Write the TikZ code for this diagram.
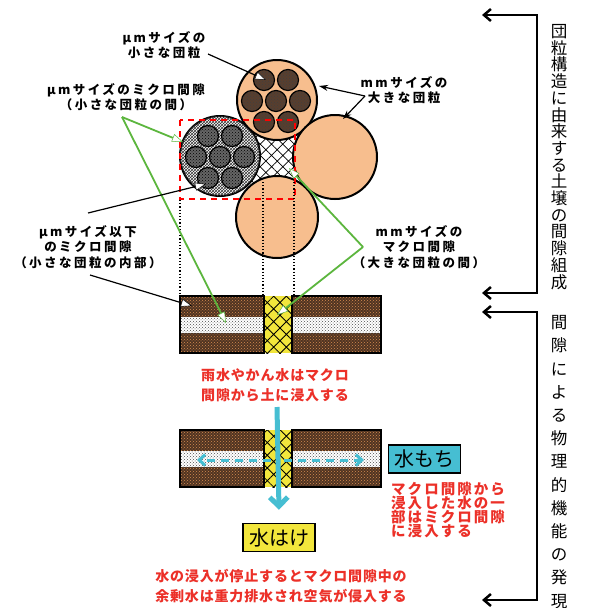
\documentclass[tikz,border=0pt]{standalone}
\usepackage{fontspec}
\usepackage{xcolor}
\usepackage{tikz}
\usetikzlibrary{patterns,patterns.meta,arrows.meta}

\newfontfamily\jp{Noto Sans CJK JP}
\newfontfamily\jplbl[LetterSpace=20]{Noto Sans CJK JP}
\newfontfamily\jpnote[LetterSpace=6]{Noto Sans CJK JP}
\newfontfamily\jphold[LetterSpace=14]{Noto Sans CJK JP}
\newcommand\lblfont{\jplbl\bfseries\fontsize{12.5}{15.5}\selectfont}
\newcommand\notefont{\jpnote\bfseries\fontsize{14}{20}\selectfont}

\definecolor{aggr}{RGB}{247,190,142}
\definecolor{crumbbrown}{RGB}{88,62,46}
\definecolor{soilbrown}{RGB}{80,52,34}
\definecolor{soildot}{RGB}{215,140,80}
\definecolor{water}{RGB}{70,190,210}
\definecolor{gapyellow}{RGB}{242,230,60}
\definecolor{note}{RGB}{236,48,40}
\definecolor{ptr}{RGB}{92,182,62}

\begin{document}
\begin{tikzpicture}[x=1pt,y=-1pt,
    lbl/.style={font=\lblfont, align=center, inner sep=0pt},
    note/.style={font=\notefont, text=note, align=center, inner sep=0pt},
    tag/.style={draw=black, line width=1.5pt, minimum width=72pt, minimum height=28pt,
        inner sep=0pt, font=\jp\fontsize{20}{20}\selectfont},
    vtxt/.style={align=center, inner sep=0pt},
    bigagg/.style={draw=black, line width=2pt, fill=aggr},
    crumb/.style={draw=black, line width=1.2pt, fill=crumbbrown,
        postaction={pattern=crosshatch dots, pattern color=black!75}},
    greycrumb/.style={draw=black, line width=1.2pt, fill=black!60,
        postaction={pattern=crosshatch dots, pattern color=black}},
    soilfill/.style={fill=soilbrown, postaction={pattern=crosshatch dots, pattern color=soildot}},
    bandfill/.style={fill=white, postaction={pattern=crosshatch dots, pattern color=black!70}},
    gapfill/.style={fill=gapyellow, postaction={pattern={Hatch[angle=45,distance=9pt,line width=0.8pt]}, pattern color=black}},
    leader/.style={black, line width=1.2pt, -{Triangle[length=11pt,width=8pt,fill=white,line width=0.5pt]}},
    pointer/.style={ptr, line width=1.8pt, -{Triangle[length=11pt,width=8pt,fill=white,line width=0.5pt]}},
    guide/.style={black, line width=1.2pt, dotted},
    brk/.style={black, line width=2.5pt, {Straight Barb[length=7pt,width=12pt]}-{Straight Barb[length=7pt,width=12pt]}}]

    \fill[white] (0,0) rectangle (589,608);
    \useasboundingbox (0,0) rectangle (589,608);

    %% macro pore between the aggregates
    \fill[white, postaction={pattern={Hatch[angle=45,distance=8pt,line width=0.7pt]}, pattern color=black}]
        (276,101) -- (335,157) -- (277,217) -- (219,157) -- cycle;

    %% aggregate made of small crumbs (grey)
    \draw[line width=2pt, fill=white, postaction={pattern=crosshatch, pattern color=black!80}] (220,156) circle (40pt);
    \foreach \dx/\dy in {-12/-21,12/-21,-24/0,0/0,24/0,-12/21,12/21}
        \draw[greycrumb] (220+\dx,157+\dy) circle (10.5pt);

    %% mm aggregates
    \draw[bigagg] (277,100) circle (40pt);
    \foreach \dx/\dy in {-12/-21,12/-21,-24/0,0/0,24/0,-12/21,12/21}
        \draw[crumb] (276+\dx,101+\dy) circle (10.5pt);
    \draw[bigagg] (335,157) circle (42pt);
    \draw[bigagg] (277,217) circle (41pt);

    %% section window
    \draw[red, line width=1.5pt, dash pattern=on 6pt off 5pt] (180,120) rectangle (295,199);
    \draw[guide] (180,200) -- (180,295);
    \draw[guide] (263,182) -- (263,295);
    \draw[guide] (294,182) -- (294,295);

    %% soil cross sections
    \foreach \y in {296,430} {
        \fill[soilfill] (180,\y) rectangle (264,\y+57);
        \fill[soilfill] (292,\y) rectangle (381,\y+57);
        \fill[bandfill] (180,\y+21) rectangle (264,\y+37);
        \fill[bandfill] (292,\y+21) rectangle (381,\y+37);
        \fill[gapfill] (264,\y) rectangle (292,\y+57);
        \draw[line width=2.5pt] (180,\y) rectangle (264,\y+57);
        \draw[line width=2.5pt] (292,\y) rectangle (381,\y+57);
    }

    %% labels
    \node[lbl] (smallagg) at (164,45) {μmサイズの\\小さな団粒};
    \node[lbl] (micro) at (126,97) {μmサイズのミクロ間隙\\（小さな団粒の間）};
    \node[lbl] (inner) at (88,247) {μmサイズ以下\\のミクロ間隙\\（小さな団粒の内部）};
    \node[lbl] (bigagglbl) at (404,90) {mmサイズの\\大きな団粒};
    \node[lbl] (macro) at (419,247) {mmサイズの\\マクロ間隙\\（大きな団粒の間）};

    \coordinate (smallaggout) at (208,54);
    \coordinate (crumbtip) at (266,80);
    \coordinate (microout) at (122,117);
    \coordinate (microtipA) at (183,142);
    \coordinate (microtipB) at (226,323);
    \coordinate (innerout) at (88,213);
    \coordinate (innertipA) at (206,184);
    \coordinate (innerlow) at (90,275);
    \coordinate (innertipB) at (192,306);
    \coordinate (bigaggout) at (365,96);
    \coordinate (bigtipA) at (319,86);
    \coordinate (bigtipB) at (343,119);
    \coordinate (macroout) at (363,247);
    \coordinate (macrotipA) at (289,168);
    \coordinate (macrotipB) at (277,315);

    \draw[leader] (smallaggout) -- (crumbtip);
    \draw[pointer] (microout) -- (microtipA);
    \draw[pointer] (microout) -- (microtipB);
    \draw[leader] (innerout) -- (innertipA);
    \draw[leader] (innerlow) -- (innertipB);
    \draw[black, line width=1.2pt, -{Stealth[length=9pt,width=6pt]}] (bigaggout) -- (bigtipA);
    \draw[black, line width=1.2pt, -{Stealth[length=9pt,width=6pt]}] (bigaggout) -- (bigtipB);
    \draw[pointer] (macroout) -- (macrotipA);
    \draw[pointer] (macroout) -- (macrotipB);

    %% water movement
    \node[note] (rainnote) at (275,385) {雨水やかん水はマクロ\\間隙から土に浸入する};
    \node[tag, fill=water] (mochi) at (424.5,459) {水もち};
    \node[tag, fill=gapyellow] (hake) at (279,537.5) {水はけ};
    \node[note, align=left, anchor=north west, font=\jphold\bfseries\fontsize{14.5}{14}\selectfont]
        (holdnote) at (391,482) {マクロ間隙から\\浸入した水の一\\部はミクロ間隙\\に浸入する};
    \node[note] (drainnote) at (281,586) {水の浸入が停止するとマクロ間隙中の\\余剰水は重力排水され空気が侵入する};

    \coordinate (rain) at (277,407);
    \coordinate (seepL) at (197,460);
    \coordinate (seepR) at (364,460);
    \coordinate (seepLs) at (271,460);
    \coordinate (seepRs) at (284,460);
    \draw[water, line width=3pt, dash pattern=on 8pt off 6pt, -{Straight Barb[length=6pt,width=11pt]}] (seepLs) -- (seepL);
    \draw[water, line width=3pt, dash pattern=on 8pt off 6pt, -{Straight Barb[length=6pt,width=11pt]}] (seepRs) -- (seepR);
    \draw[water, line width=5pt, -{Straight Barb[length=9pt,width=18pt]}] (rain) -- ([yshift=13pt]hake.north);

    %% right side brackets
    \coordinate (b1a) at (482,15);
    \coordinate (b1b) at (537,15);
    \coordinate (b1c) at (537,293);
    \coordinate (b1d) at (482,293);
    \coordinate (b2a) at (482,312);
    \coordinate (b2b) at (537,312);
    \coordinate (b2c) at (537,600);
    \coordinate (b2d) at (482,600);
    \draw[brk] (b1a) -- (b1b) -- (b1c) -- (b1d);
    \draw[brk] (b2a) -- (b2b) -- (b2c) -- (b2d);

    \node[vtxt, font=\jp\fontsize{16.5}{16.7}\selectfont] (origin) at (559,157)
        {団\\粒\\構\\造\\に\\由\\来\\す\\る\\土\\壌\\の\\間\\隙\\組\\成};
    \node[vtxt, font=\jp\fontsize{16.5}{23.2}\selectfont] (function) at (559,462)
        {間\\隙\\に\\よ\\る\\物\\理\\的\\機\\能\\の\\発\\現};

\end{tikzpicture}
\end{document}
